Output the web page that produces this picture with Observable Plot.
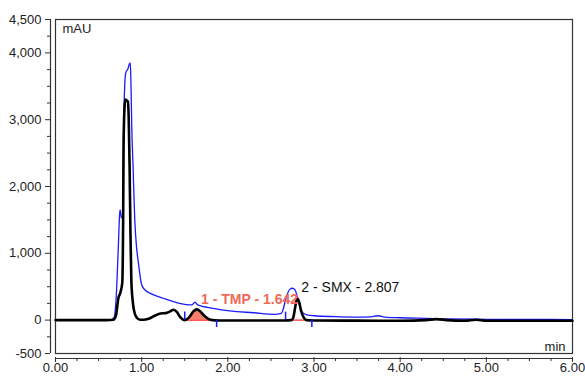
<!DOCTYPE html>
<html>
<head>
<meta charset="utf-8">
<script src="https://cdn.jsdelivr.net/npm/d3@7"></script>
<script src="https://cdn.jsdelivr.net/npm/@observablehq/plot@0.6"></script>
<style>
  html, body { margin: 0; padding: 0; background: #fff; }
  #chart { width: 585px; height: 376px; }
</style>
</head>
<body>
<div id="chart"></div>
<script>
// ---- data ----
const blackTime  = [0, 0.60, 0.67, 0.70, 0.73, 0.755, 0.775, 0.785, 0.79, 0.80, 0.81, 0.825, 0.84, 0.85, 0.86, 0.87, 0.88, 0.895, 0.91, 0.94, 0.98, 1.02, 1.08, 1.15, 1.22, 1.28, 1.33, 1.37, 1.41, 1.45, 1.50, 1.55, 1.60, 1.64, 1.68, 1.73, 1.78, 1.82, 1.90, 2.10, 2.40, 2.65, 2.74, 2.76, 2.78, 2.80, 2.81, 2.83, 2.85, 2.88, 2.91, 3.00, 3.50, 4.00, 4.30, 4.42, 4.54, 4.75, 4.88, 5.00, 5.50, 6.00];
const blackValue = [0, 0, 5, 60, 330, 420, 560, 1500, 2600, 3150, 3300, 3290, 3270, 3000, 2300, 1300, 600, 300, 150, 42, 5, 5, 20, 65, 100, 105, 130, 155, 120, 40, 0, 40, 130, 160, 130, 60, 15, 0, -5, -5, -5, -5, 0, 40, 180, 310, 320, 260, 140, 40, 0, -5, -8, -10, 0, 15, 0, -10, 5, -10, -10, -10];

const blueTime  = [0, 0.64, 0.68, 0.71, 0.73, 0.745, 0.75, 0.765, 0.78, 0.79, 0.80, 0.815, 0.84, 0.86, 0.868, 0.875, 0.885, 0.90, 0.92, 0.94, 0.96, 1.00, 1.04, 1.10, 1.25, 1.44, 1.58, 1.62, 1.65, 1.83, 2.02, 2.30, 2.54, 2.62, 2.64, 2.68, 2.72, 2.75, 2.78, 2.83, 2.87, 2.92, 3.00, 3.24, 3.50, 3.65, 3.74, 3.82, 4.00, 4.30, 4.50, 5.00, 5.50, 6.00];
const blueValue = [0, 0, 40, 480, 1130, 1600, 1650, 1530, 1560, 2800, 3400, 3700, 3760, 3840, 3850, 3600, 2900, 2300, 1500, 1100, 880, 530, 450, 400, 327, 252, 228, 267, 228, 177, 138, 110, 87, 100, 153, 352, 460, 477, 453, 228, 110, 78, 65, 52, 45, 48, 65, 45, 35, 25, 18, 12, 10, 8];

const peakNames  = ["1 - TMP - 1.642", "2 - SMX - 2.807"];
const peakTimes  = [1.642, 2.807];
const peakHeights = [160, 320];
const peakStart  = [1.50, 2.67];
const peakEnd    = [1.87, 2.975];

const yMajorTicks = [-500, 0, 1000, 2000, 3000, 4000, 4500];
const xMajorTicks = [0, 1, 2, 3, 4, 5, 6];

// ---- build tables ----
const black = blackTime.map((t, i) => ({t, v: blackValue[i]}));
const blue  = blueTime.map((t, i) => ({t, v: blueValue[i]}));
const peaks = peakNames.map((name, i) => ({name, t: peakTimes[i], h: peakHeights[i], s: peakStart[i], e: peakEnd[i]}));
const tmpArea = black.filter(d => d.t >= peakStart[0] && d.t <= 1.82);
const yMinor = d3.range(-500, 4501, 250).filter(v => !yMajorTicks.includes(v));
const xMinor = d3.range(0, 6.001, 0.25).filter(v => Math.abs(v - Math.round(v)) > 1e-6);

const redText = "#f26a55";
const fmtY = d => d.toLocaleString("en-US");

const chart = Plot.plot({
  width: 585,
  height: 376,
  marginLeft: 55,
  marginRight: 13,
  marginTop: 19,
  marginBottom: 23,
  style: {fontFamily: "'Liberation Sans', Arial, sans-serif", fontSize: "13px", color: "#222", background: "#fff"},
  x: {domain: [0, 6]},
  y: {domain: [-500, 4500]},
  marks: [
    // axis lines (offset from frame)
    Plot.ruleX([0], {y1: -500, y2: 4500, dx: -5, stroke: "#333", strokeWidth: 1.2}),
    Plot.ruleY([-500], {x1: 0, x2: 6, dy: 5, stroke: "#333", strokeWidth: 1.2}),
    Plot.axisY(yMajorTicks, {anchor: "left", tickSize: 5, tickPadding: 4, dx: -5, tickFormat: fmtY, label: null, stroke: "#333", fill: "#222", fontSize: 13}),
    Plot.axisY(yMinor, {anchor: "left", tickSize: 3, dx: -5, text: null, label: null, stroke: "#333"}),
    Plot.axisX(xMajorTicks, {anchor: "bottom", tickSize: 5, tickPadding: 0, dy: 4, tickFormat: d => d.toFixed(2), label: null, stroke: "#333", fill: "#222", fontSize: 13}),
    Plot.axisX(xMinor, {anchor: "bottom", tickSize: 3, dy: 5, text: null, label: null, stroke: "#333"}),
    Plot.frame({stroke: "#333", strokeWidth: 1.2}),
    // traces
    Plot.lineY(blue, {x: "t", y: "v", stroke: "#1a1aff", strokeWidth: 1.3, curve: "monotone-x"}),
    Plot.areaY(tmpArea, {x: "t", y1: 0, y2: "v", fill: "#f4806c", curve: "monotone-x"}),
    Plot.ruleY(peaks, {y: 0, x1: "s", x2: "e", stroke: "#ff2020", strokeWidth: 1.2}),
    Plot.lineY(black, {x: "t", y: "v", stroke: "#000", strokeWidth: 2.6, curve: "monotone-x"}),
    // peak delimiters
    Plot.ruleX(peaks, {x: "s", y1: 0, y2: 120, stroke: "#1a1aff", strokeWidth: 1.5}),
    Plot.ruleX(peaks, {x: "e", y1: 0, y2: -110, stroke: "#1a1aff", strokeWidth: 1.5}),
    // labels
    Plot.text(peaks.slice(0, 1), {x: "t", y: "h", text: "name", textAnchor: "start", dx: 4, dy: -10, fill: redText, fontWeight: "bold", fontSize: 14}),
    Plot.text(peaks.slice(1), {x: "t", y: "h", text: "name", textAnchor: "start", dx: 4, dy: -11, fill: "#111", fontSize: 14}),
    Plot.text(["mAU"], {text: d => d, frameAnchor: "top-left", textAnchor: "start", lineAnchor: "top", dx: 7, dy: 4, fill: "#222", fontSize: 13}),
    Plot.text(["min"], {text: d => d, frameAnchor: "bottom-right", textAnchor: "end", lineAnchor: "bottom", dx: -7, dy: -3, fill: "#222", fontSize: 13})
  ]
});
document.getElementById("chart").appendChild(chart);
</script>
</body>
</html>
